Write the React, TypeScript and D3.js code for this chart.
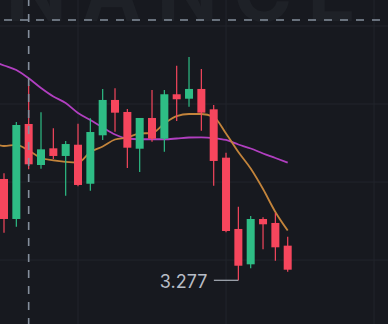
import React from 'react';
import * as d3 from 'd3';

const W = 388;
const H = 324;

// OHLC per candle (index 0..23)
const opens = [3.4069, 3.3556, 3.4774, 3.4248, 3.4462, 3.4364, 3.4508, 3.4008, 3.4629, 3.5082, 3.4928, 3.4457, 3.4851, 3.4585, 3.5155, 3.5098, 3.5223, 3.4962, 3.4342, 3.3428, 3.2975, 3.3556, 3.3505, 3.3214];
const highs = [3.4142, 3.4800, 3.5274, 3.4924, 3.4719, 3.4556, 3.4778, 3.4847, 3.5223, 3.5232, 3.4966, 3.4851, 3.5210, 3.5210, 3.5521, 3.5633, 3.5479, 3.5017, 3.4406, 3.3714, 3.3594, 3.3578, 3.3633, 3.3329];
const lows = [3.3380, 3.3457, 3.4193, 3.4201, 3.4325, 3.3855, 3.3975, 3.3919, 3.4569, 3.4675, 3.4210, 3.4158, 3.4547, 3.4419, 3.4812, 3.4996, 3.4688, 3.3983, 3.3385, 3.2770, 3.2924, 3.3167, 3.3021, 3.2880];
const closes = [3.3556, 3.4761, 3.4257, 3.4449, 3.4364, 3.4517, 3.3992, 3.4671, 3.5082, 3.4919, 3.4470, 3.4851, 3.4585, 3.5155, 3.5091, 3.5223, 3.4919, 3.4300, 3.3402, 3.2957, 3.3556, 3.3488, 3.3193, 3.2906];

// moving averages, starting at index -1
const maStart = -1;
const maFast = [3.4543, 3.4492, 3.4505, 3.4434, 3.4338, 3.4308, 3.4289, 3.4280, 3.4415, 3.4485, 3.4575, 3.4601, 3.4652, 3.4658, 3.4780, 3.4876, 3.4902, 3.4902, 3.4864, 3.4652, 3.4415, 3.4203, 3.3940, 3.3646, 3.3408];
const maSlow = [3.5582, 3.5524, 3.5466, 3.5360, 3.5235, 3.5126, 3.5043, 3.4915, 3.4825, 3.4729, 3.4639, 3.4588, 3.4578, 3.4578, 3.4578, 3.4588, 3.4601, 3.4603, 3.4594, 3.4569, 3.4511, 3.4460, 3.4396, 3.4338, 3.4278];

const gridPrices = [3.303, 3.403, 3.503, 3.603];
const gridIndices = [6, 18, 30];
const crosshairIndex = 2;
const crosshairPrice = 3.6107;
const lowIndex = 19;
const lowLabel = '3.277';
const watermark = 'BINANCE';

const BG = '#17191f';
const GRID = '#22252c';
const UP = '#2ebd85';
const DOWN = '#f6465d';

export default function App() {
  const x = d3.scaleLinear().domain([0, 23]).range([4, 287.7]);
  const y = d3.scaleLinear().domain([3.277, 3.6034]).range([280.3, 25.7]);
  const bodyW = 8;

  const line = d3
    .line<number>()
    .x((_, i) => x(i + maStart))
    .y((d) => y(d))
    .curve(d3.curveMonotoneX);

  const lowX = x(lowIndex);
  const lowY = y(lows[lowIndex]);

  return (
    <svg
      width={W}
      height={H}
      style={{ position: 'fixed', left: 0, top: 0, display: 'block', background: BG }}
    >
      <rect x={0} y={0} width={W} height={H} fill={BG} />
      {gridPrices.map((p) => (
        <line key={'h' + p} x1={0} x2={W} y1={y(p)} y2={y(p)} stroke={GRID} strokeWidth={1} />
      ))}
      {gridIndices.map((i) => (
        <line key={'v' + i} x1={x(i)} x2={x(i)} y1={0} y2={H} stroke={GRID} strokeWidth={1} />
      ))}
      <text
        x={-100}
        y={20.5}
        textLength={456}
        lengthAdjust="spacing"
        fontFamily="Inter, 'Liberation Sans', sans-serif"
        fontWeight={700}
        fontSize={80}
        fill="#1e2127"
      >
        {watermark}
      </text>
      <path d={line(maSlow) || ''} fill="none" stroke="#b13fc0" strokeWidth={1.8} />
      <path d={line(maFast) || ''} fill="none" stroke="#c3843b" strokeWidth={1.8} />
      {opens.map((o, i) => {
        const c = closes[i];
        const up = c >= o;
        const col = up ? UP : DOWN;
        const cx = x(i);
        const top = y(Math.max(o, c));
        const bot = y(Math.min(o, c));
        return (
          <g key={i}>
            <line x1={cx} x2={cx} y1={y(highs[i])} y2={y(lows[i])} stroke={col} strokeWidth={1.2} />
            <rect x={cx - bodyW / 2} y={top} width={bodyW} height={Math.max(1, bot - top)} fill={col} />
          </g>
        );
      })}
      <line
        x1={x(crosshairIndex)}
        x2={x(crosshairIndex)}
        y1={0}
        y2={H}
        stroke="#848e9c"
        strokeWidth={1.6}
        strokeDasharray="8 8"
        strokeDashoffset={2}
      />
      <line
        x1={0}
        x2={W}
        y1={y(crosshairPrice)}
        y2={y(crosshairPrice)}
        stroke="#848e9c"
        strokeWidth={1.6}
        strokeDasharray="8 8"
        strokeDashoffset={-4}
      />
      <line x1={lowX - 24.5} x2={lowX} y1={lowY} y2={lowY} stroke="#a9afb8" strokeWidth={1.2} />
      <text
        x={lowX - 31}
        y={lowY + 7.8}
        textAnchor="end"
        fontFamily="Inter, 'Noto Sans', sans-serif"
        fontSize={18}
        fill="#b7bdc6"
      >
        {lowLabel}
      </text>
    </svg>
  );
}
